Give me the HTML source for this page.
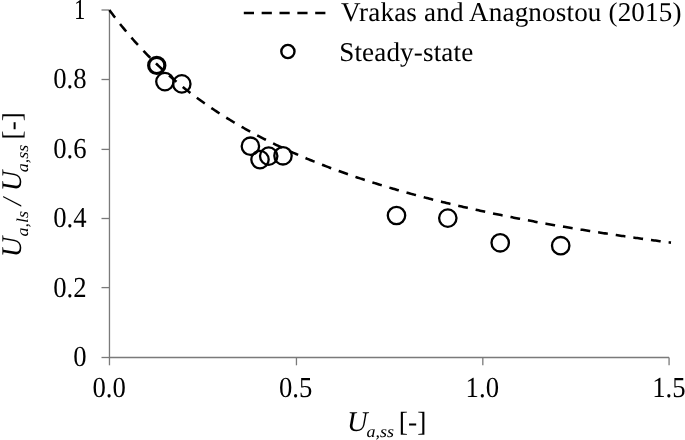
<!DOCTYPE html>
<html><head><meta charset="utf-8"><style>
html,body{margin:0;padding:0;background:#fff;}
body{width:685px;height:440px;overflow:hidden;font-family:"Liberation Serif",serif;}
svg{display:block;will-change:transform;} text{text-rendering:geometricPrecision;}
</style></head><body>
<svg width="685" height="440" viewBox="0 0 685 440">
<rect width="685" height="440" fill="#fff"/>
<g stroke="#7a7a7a" stroke-width="1.3" fill="none">
<path d="M109.47,10.0 V357.5 H669.07"/>
<path d="M101.5,357.5 H109.47"/>
<path d="M101.5,287.6 H109.47"/>
<path d="M101.5,218.5 H109.47"/>
<path d="M101.5,149.4 H109.47"/>
<path d="M101.5,79.5 H109.47"/>
<path d="M101.5,10.0 H109.47"/>
<path d="M109.47,357.5 V365.3"/>
<path d="M296.45,357.5 V365.3"/>
<path d="M482.82,357.5 V365.3"/>
<path d="M669.07,357.5 V365.3"/>
</g>
<path d="M109.40,10.00 L110.80,11.91 L112.21,13.80 L113.61,15.67 L115.02,17.52 L116.42,19.35 L117.82,21.15 L119.23,22.94 L120.63,24.70 L122.04,26.45 L123.44,28.17 L124.84,29.88 L126.25,31.57 L127.65,33.24 L129.06,34.89 L130.46,36.52 L131.86,38.14 L133.27,39.74 L134.67,41.32 L136.08,42.88 L137.48,44.43 L138.88,45.96 L140.29,47.48 L141.69,48.98 L143.10,50.46 L144.50,51.93 L145.90,53.39 L147.31,54.83 L148.71,56.25 L150.12,57.67 L151.52,59.06 L152.92,60.45 L154.33,61.82 L155.73,63.17 L157.14,64.52 L158.54,65.85 L159.94,67.16 L161.35,68.47 L162.75,69.76 L164.16,71.04 L165.56,72.31 L166.96,73.56 L168.37,74.81 L169.77,76.04 L171.18,77.26 L172.58,78.47 L173.98,79.67 L175.39,80.86 L176.79,82.04 L178.20,83.20 L179.60,84.36 L181.00,85.50 L182.41,86.64 L183.81,87.76 L185.22,88.88 L186.62,89.99 L188.02,91.08 L189.43,92.17 L190.83,93.24 L192.24,94.31 L193.64,95.37 L195.04,96.42 L196.45,97.46 L197.85,98.49 L199.26,99.51 L200.66,100.53 L202.06,101.53 L203.47,102.53 L204.87,103.52 L206.28,104.50 L207.68,105.48 L209.08,106.44 L210.49,107.40 L211.89,108.35 L213.30,109.29 L214.70,110.22 L216.10,111.15 L217.51,112.07 L218.91,112.98 L220.32,113.89 L221.72,114.78 L223.12,115.67 L224.53,116.56 L225.93,117.43 L227.34,118.30 L228.74,119.17 L230.14,120.02 L231.55,120.87 L232.95,121.72 L234.36,122.56 L235.76,123.39 L237.16,124.21 L238.57,125.03 L239.97,125.84 L241.38,126.65 L242.78,127.45 L244.18,128.24 L245.59,129.03 L246.99,129.81 L248.40,130.59 L249.80,131.36 L251.20,132.13 L252.61,132.89 L254.01,133.64 L255.42,134.39 L256.82,135.14 L258.22,135.88 L259.63,136.61 L261.03,137.34 L262.44,138.06 L263.84,138.78 L265.24,139.49 L266.65,140.20 L268.05,140.91 L269.46,141.60 L270.86,142.30 L272.26,142.99 L273.67,143.67 L275.07,144.35 L276.48,145.03 L277.88,145.70 L279.28,146.36 L280.69,147.02 L282.09,147.68 L283.50,148.33 L284.90,148.98 L286.30,149.63 L287.71,150.27 L289.11,150.90 L290.52,151.54 L291.92,152.16 L293.32,152.79 L294.73,153.41 L296.13,154.02 L297.54,154.63 L298.94,155.24 L300.34,155.84 L301.75,156.44 L303.15,157.04 L304.56,157.63 L305.96,158.22 L307.36,158.81 L308.77,159.39 L310.17,159.96 L311.58,160.54 L312.98,161.11 L314.38,161.68 L315.79,162.24 L317.19,162.80 L318.60,163.36 L320.00,163.91 L321.40,164.46 L322.81,165.01 L324.21,165.55 L325.62,166.09 L327.02,166.63 L328.42,167.16 L329.83,167.69 L331.23,168.22 L332.64,168.74 L334.04,169.26 L335.44,169.78 L336.85,170.29 L338.25,170.81 L339.66,171.32 L341.06,171.82 L342.46,172.32 L343.87,172.82 L345.27,173.32 L346.68,173.82 L348.08,174.31 L349.48,174.80 L350.89,175.28 L352.29,175.77 L353.70,176.25 L355.10,176.72 L356.50,177.20 L357.91,177.67 L359.31,178.14 L360.72,178.61 L362.12,179.07 L363.52,179.54 L364.93,179.99 L366.33,180.45 L367.74,180.91 L369.14,181.36 L370.54,181.81 L371.95,182.25 L373.35,182.70 L374.76,183.14 L376.16,183.58 L377.56,184.02 L378.97,184.45 L380.37,184.89 L381.78,185.32 L383.18,185.75 L384.58,186.17 L385.99,186.60 L387.39,187.02 L388.80,187.44 L390.20,187.85 L391.60,188.27 L393.01,188.68 L394.41,189.09 L395.82,189.50 L397.22,189.91 L398.62,190.31 L400.03,190.71 L401.43,191.11 L402.84,191.51 L404.24,191.91 L405.64,192.30 L407.05,192.69 L408.45,193.08 L409.86,193.47 L411.26,193.86 L412.66,194.24 L414.07,194.62 L415.47,195.00 L416.88,195.38 L418.28,195.76 L419.68,196.13 L421.09,196.51 L422.49,196.88 L423.90,197.25 L425.30,197.61 L426.70,197.98 L428.11,198.34 L429.51,198.71 L430.92,199.07 L432.32,199.43 L433.72,199.78 L435.13,200.14 L436.53,200.49 L437.94,200.84 L439.34,201.19 L440.74,201.54 L442.15,201.89 L443.55,202.23 L444.96,202.58 L446.36,202.92 L447.76,203.26 L449.17,203.60 L450.57,203.93 L451.98,204.27 L453.38,204.60 L454.78,204.94 L456.19,205.27 L457.59,205.60 L459.00,205.92 L460.40,206.25 L461.80,206.57 L463.21,206.90 L464.61,207.22 L466.02,207.54 L467.42,207.86 L468.82,208.18 L470.23,208.49 L471.63,208.81 L473.04,209.12 L474.44,209.43 L475.84,209.74 L477.25,210.05 L478.65,210.36 L480.06,210.66 L481.46,210.97 L482.86,211.27 L484.27,211.58 L485.67,211.88 L487.08,212.18 L488.48,212.47 L489.88,212.77 L491.29,213.07 L492.69,213.36 L494.10,213.65 L495.50,213.95 L496.90,214.24 L498.31,214.53 L499.71,214.81 L501.12,215.10 L502.52,215.39 L503.92,215.67 L505.33,215.95 L506.73,216.24 L508.14,216.52 L509.54,216.80 L510.94,217.07 L512.35,217.35 L513.75,217.63 L515.16,217.90 L516.56,218.18 L517.96,218.45 L519.37,218.72 L520.77,218.99 L522.18,219.26 L523.58,219.53 L524.98,219.79 L526.39,220.06 L527.79,220.32 L529.20,220.59 L530.60,220.85 L532.00,221.11 L533.41,221.37 L534.81,221.63 L536.22,221.89 L537.62,222.15 L539.02,222.40 L540.43,222.66 L541.83,222.91 L543.24,223.17 L544.64,223.42 L546.04,223.67 L547.45,223.92 L548.85,224.17 L550.26,224.42 L551.66,224.66 L553.06,224.91 L554.47,225.16 L555.87,225.40 L557.28,225.64 L558.68,225.89 L560.08,226.13 L561.49,226.37 L562.89,226.61 L564.30,226.85 L565.70,227.08 L567.10,227.32 L568.51,227.56 L569.91,227.79 L571.32,228.03 L572.72,228.26 L574.12,228.49 L575.53,228.72 L576.93,228.95 L578.34,229.18 L579.74,229.41 L581.14,229.64 L582.55,229.86 L583.95,230.09 L585.36,230.32 L586.76,230.54 L588.16,230.76 L589.57,230.99 L590.97,231.21 L592.38,231.43 L593.78,231.65 L595.18,231.87 L596.59,232.09 L597.99,232.31 L599.40,232.52 L600.80,232.74 L602.20,232.95 L603.61,233.17 L605.01,233.38 L606.42,233.60 L607.82,233.81 L609.22,234.02 L610.63,234.23 L612.03,234.44 L613.44,234.65 L614.84,234.86 L616.24,235.06 L617.65,235.27 L619.05,235.48 L620.46,235.68 L621.86,235.89 L623.26,236.09 L624.67,236.29 L626.07,236.50 L627.48,236.70 L628.88,236.90 L630.28,237.10 L631.69,237.30 L633.09,237.50 L634.50,237.70 L635.90,237.89 L637.30,238.09 L638.71,238.29 L640.11,238.48 L641.52,238.68 L642.92,238.87 L644.32,239.07 L645.73,239.26 L647.13,239.45 L648.54,239.64 L649.94,239.83 L651.34,240.02 L652.75,240.21 L654.15,240.40 L655.56,240.59 L656.96,240.78 L658.36,240.96 L659.77,241.15 L661.17,241.33 L662.58,241.52 L663.98,241.70 L665.38,241.89 L666.79,242.07 L668.19,242.25 L669.60,242.43 L671.00,242.62" fill="none" stroke="#000" stroke-width="2.55" stroke-dasharray="9.8 8.0" stroke-dashoffset="0.25"/>
<g fill="none" stroke="#000" stroke-width="2.3">
<circle cx="156.75" cy="65.4" r="8.1" stroke-width="3.2"/>
<circle cx="164.9" cy="81.6" r="8.7"/>
<circle cx="181.8" cy="83.9" r="8.7"/>
<circle cx="250.4" cy="146.2" r="8.7"/>
<circle cx="260.0" cy="159.6" r="8.7"/>
<circle cx="268.7" cy="156.1" r="8.7"/>
<circle cx="283.0" cy="155.8" r="8.7"/>
<circle cx="396.5" cy="215.5" r="8.7"/>
<circle cx="447.8" cy="218.1" r="8.7"/>
<circle cx="500.2" cy="242.8" r="8.7"/>
<circle cx="560.7" cy="245.7" r="8.7"/>
</g>
<g font-family="Liberation Serif" font-size="27.1" fill="#000">
<text transform="translate(86.6,366.40) scale(0.985,1.07)" text-anchor="end">0</text>
<text transform="translate(86.6,296.90) scale(0.985,1.07)" text-anchor="end">0.2</text>
<text transform="translate(86.6,227.40) scale(0.985,1.07)" text-anchor="end">0.4</text>
<text transform="translate(86.6,157.90) scale(0.985,1.07)" text-anchor="end">0.6</text>
<text transform="translate(86.6,88.40) scale(0.985,1.07)" text-anchor="end">0.8</text>
<text transform="translate(79.7,18.90) scale(0.84,1.07)" text-anchor="middle">1</text>
<text transform="translate(109.10,397.4) scale(0.985,1.07)" text-anchor="middle">0.0</text>
<text transform="translate(295.70,397.4) scale(0.985,1.07)" text-anchor="middle">0.5</text>
<text transform="translate(482.30,397.4) scale(0.985,1.07)" text-anchor="middle">1.0</text>
<text transform="translate(668.90,397.4) scale(0.985,1.07)" text-anchor="middle">1.5</text>
<text x="347" y="430.5" font-style="italic" font-size="28.5">U</text>
<text transform="translate(366.4,437.0) scale(1,0.92)" font-style="italic" font-size="18">a,ss</text>
<text x="398.8" y="431.0" font-size="27.6">[-]</text>
<g transform="translate(21.3,0) rotate(-90)">
<text x="-257.2" y="0" font-style="italic" font-size="28.5">U</text>
<text transform="translate(-236.4,6.7) scale(1,0.92)" font-style="italic" font-size="18">a,ls</text>
<text x="-205.6" y="0" font-style="italic">/</text>
<text x="-191.2" y="0" font-style="italic" font-size="28.5">U</text>
<text transform="translate(-172.3,6.7) scale(1,0.92)" font-style="italic" font-size="18">a,ss</text>
<text x="-139.4" y="0">[-]</text>
</g>
<text x="341" y="21.2" textLength="340.5" lengthAdjust="spacing">Vrakas and Anagnostou (2015)</text>
<text x="339.2" y="61.2" textLength="134.0" lengthAdjust="spacing">Steady-state</text>
</g>
<path d="M243.8,13.0 H326.4" fill="none" stroke="#000" stroke-width="2.55" stroke-dasharray="10.20 7.65"/>
<circle cx="287.9" cy="51.5" r="6.6" fill="none" stroke="#000" stroke-width="2.4"/>
</svg>
</body></html>
